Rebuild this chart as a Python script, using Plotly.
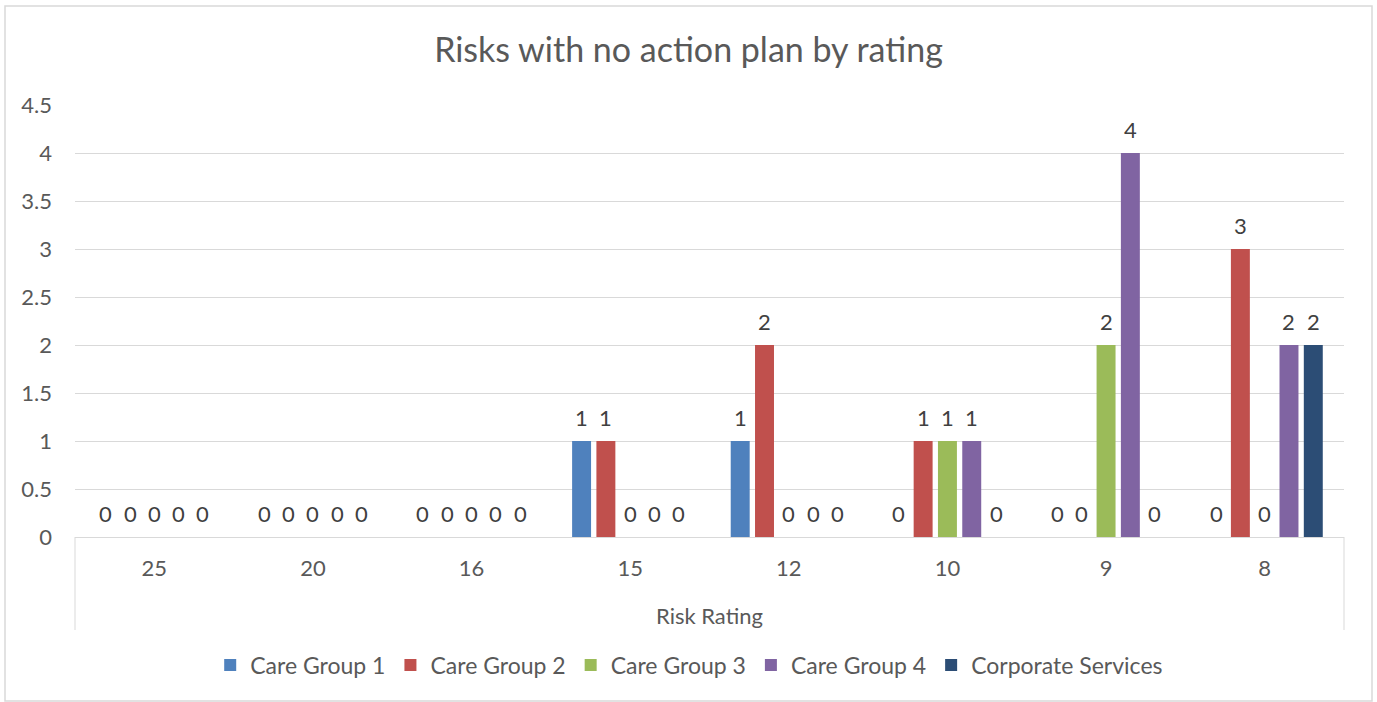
import plotly.graph_objects as go

# Risk ratings (category axis) and counts per group
ratings = ["25", "20", "16", "15", "12", "10", "9", "8"]
care_group_1 = [0, 0, 0, 1, 1, 0, 0, 0]
care_group_2 = [0, 0, 0, 1, 2, 1, 0, 3]
care_group_3 = [0, 0, 0, 0, 0, 1, 2, 0]
care_group_4 = [0, 0, 0, 0, 0, 1, 4, 2]
corporate_services = [0, 0, 0, 0, 0, 0, 0, 2]

series_names = ["Care Group 1", "Care Group 2", "Care Group 3", "Care Group 4", "Corporate Services"]
series_values = [care_group_1, care_group_2, care_group_3, care_group_4, corporate_services]
series_colors = ["#4F81BD", "#C0504D", "#9BBB59", "#8064A2", "#2C4D75"]

y_ticks = [0, 0.5, 1, 1.5, 2, 2.5, 3, 3.5, 4, 4.5]

FONT = "Lato"
TXT = "#595959"
W, H = 1377, 702
M_L, M_R, M_T, M_B = 75, 33, 105, 165
BARGAP = 0.234
BARGROUPGAP = 0.22

x_pos = list(range(len(ratings)))
n_series = len(series_names)
slot = (1 - BARGAP) / n_series

fig = go.Figure()
annotations = []
for j, (name, vals, col) in enumerate(zip(series_names, series_values, series_colors)):
    fig.add_trace(go.Bar(
        x=x_pos, y=vals, name=name,
        marker=dict(color=col, line=dict(width=0)),
    ))
    # value labels sit above each bar of the group
    offset = -(1 - BARGAP) / 2 + (j + 0.5) * slot
    for xi, v in zip(x_pos, vals):
        annotations.append(dict(
            x=xi + offset, y=v, xref="x", yref="y",
            text=str(v), showarrow=False,
            yanchor="middle", xanchor="center", yshift=24,
            font=dict(family=FONT, size=22, color="#404040"),
        ))

plot_h = H - M_T - M_B
plot_w = W - M_L - M_R

# axis title under the category labels
annotations.append(dict(
    x=0.5, y=-(615 - (H - M_B)) / plot_h, xref="paper", yref="paper",
    text="Risk Rating", showarrow=False, xanchor="center", yanchor="middle",
    font=dict(family=FONT, size=22, color=TXT),
))

line_col = "#D9D9D9"
cat_bottom = -(630 - (H - M_B)) / plot_h
shapes = [
    # category axis frame
    dict(type="line", xref="paper", yref="paper", x0=0, x1=0, y0=0, y1=cat_bottom,
         line=dict(color=line_col, width=1)),
    dict(type="line", xref="paper", yref="paper", x0=1, x1=1, y0=0, y1=cat_bottom,
         line=dict(color=line_col, width=1)),
    # chart border
    dict(type="rect", xref="paper", yref="paper",
         x0=-(M_L - 5) / plot_w, x1=1 + (M_R - 5) / plot_w,
         y0=-(M_B - 1) / plot_h, y1=1 + (M_T - 6) / plot_h,
         line=dict(color=line_col, width=1.5), layer="below"),
]

fig.update_layout(
    width=W, height=H,
    margin=dict(l=M_L, r=M_R, t=M_T, b=M_B),
    paper_bgcolor="white", plot_bgcolor="white",
    barmode="group", bargap=BARGAP, bargroupgap=BARGROUPGAP,
    title=dict(
        text="Risks with no action plan by rating",
        x=0.5, xref="container", xanchor="center",
        y=1 - 50 / H, yref="container", yanchor="middle",
        font=dict(family=FONT, size=34, color=TXT),
    ),
    font=dict(family=FONT, size=22, color=TXT),
    xaxis=dict(
        tickmode="array", tickvals=x_pos, ticktext=ratings,
        range=[-0.5, len(ratings) - 0.5],
        showgrid=False, zeroline=False,
        showline=True, linecolor=line_col, linewidth=1,
        ticks="", ticklabelstandoff=12,
        tickfont=dict(family=FONT, size=22, color=TXT),
    ),
    yaxis=dict(
        range=[0, 4.5], tickmode="array", tickvals=y_ticks,
        ticktext=[f"{t:g}" for t in y_ticks],
        showgrid=True, gridcolor=line_col, gridwidth=1,
        zeroline=False, showline=False, ticks="", ticklabelstandoff=22,
        tickfont=dict(family=FONT, size=22, color=TXT),
    ),
    legend=dict(
        orientation="h", x=0.484, xanchor="center",
        y=-(665 - (H - M_B)) / plot_h, yanchor="middle",
        font=dict(family=FONT, size=23, color=TXT),
        traceorder="normal",
    ),
    annotations=annotations,
    shapes=shapes,
)

fig.write_html("out.html")
